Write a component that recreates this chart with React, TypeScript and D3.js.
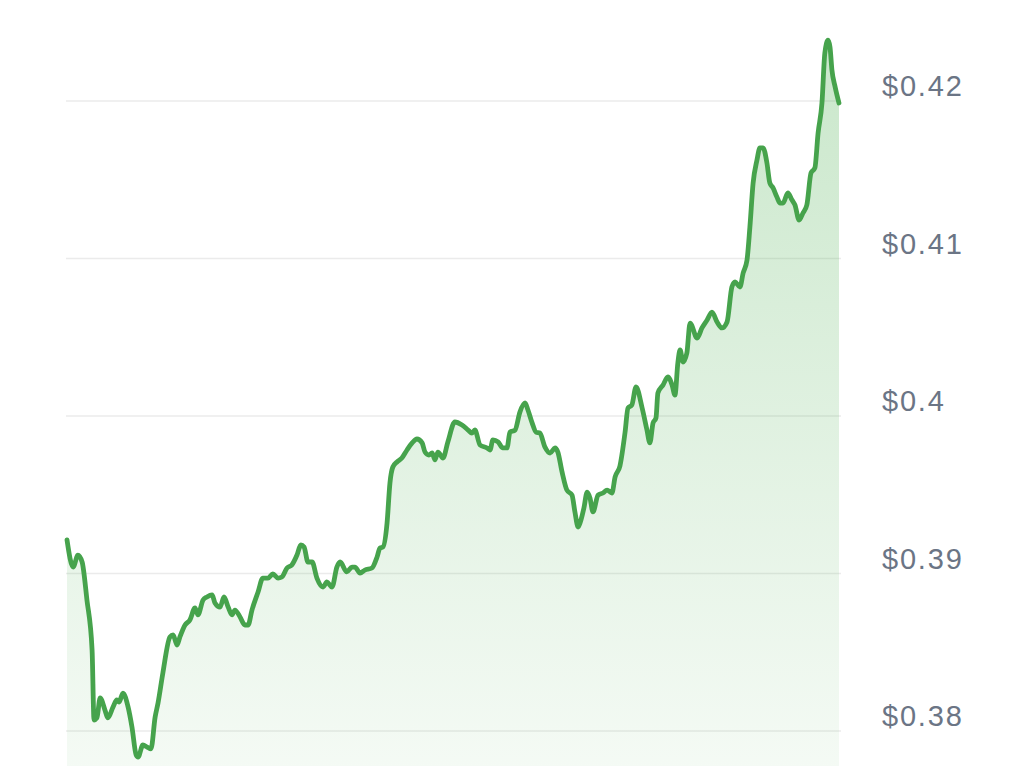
import React, { useEffect, useRef } from "react";
import * as d3 from "d3";

// Time of day in hours (0 = start of window, 24 = end)
const hours = [
  0.0, 0.19, 0.34, 0.47, 0.62, 0.78, 0.84, 0.93, 1.03, 1.18, 1.27, 1.43, 1.55, 1.62, 1.74, 1.9, 2.02, 2.15, 2.21, 2.36,
  2.49, 2.61, 2.74, 2.83, 2.98, 3.2, 3.3, 3.42, 3.51, 3.67, 3.82, 3.98, 4.07, 4.23, 4.35, 4.51, 4.6, 4.76, 4.88, 5.01,
  5.13, 5.22, 5.38, 5.53, 5.63, 5.75, 5.94, 6.09, 6.25, 6.4, 6.56, 6.68, 6.84, 6.99, 7.15, 7.27, 7.37, 7.49, 7.62, 7.77,
  7.96, 8.08, 8.24, 8.39, 8.49, 8.7, 8.86, 8.95, 9.11, 9.26, 9.48, 9.64, 9.73, 9.82, 9.95, 10.04, 10.13, 10.26, 10.41, 10.57,
  10.73, 10.88, 11.04, 11.13, 11.25, 11.35, 11.44, 11.53, 11.69, 11.84, 12.06, 12.28, 12.47, 12.59, 12.68, 12.84, 13.06, 13.15, 13.24, 13.4,
  13.55, 13.68, 13.77, 13.93, 14.08, 14.24, 14.33, 14.46, 14.58, 14.7, 14.86, 15.02, 15.17, 15.26, 15.39, 15.54, 15.7, 15.79, 15.89, 15.95,
  16.07, 16.17, 16.26, 16.35, 16.51, 16.66, 16.79, 16.94, 17.04, 17.19, 17.35, 17.44, 17.56, 17.69, 17.88, 18.03, 18.12, 18.22, 18.31, 18.37,
  18.53, 18.68, 18.81, 18.9, 18.99, 19.06, 19.15, 19.27, 19.37, 19.59, 19.74, 19.9, 20.05, 20.21, 20.36, 20.52, 20.67, 20.77, 20.92, 21.02,
  21.14, 21.23, 21.33, 21.45, 21.54, 21.64, 21.76, 21.85, 21.95, 22.07, 22.17, 22.26, 22.41, 22.54, 22.63, 22.76, 22.88, 23.0, 23.13, 23.25,
  23.35, 23.47, 23.56, 23.66, 23.72, 23.78, 23.88, 24.0,
];

// Price in USD
const prices = [
  0.39213, 0.39041, 0.39117, 0.39073, 0.38832, 0.38514, 0.3807, 0.38083, 0.3821, 0.38133, 0.38083, 0.38152, 0.38197, 0.38184, 0.38241, 0.38152, 0.38025, 0.37848, 0.37835, 0.37911,
  0.37898, 0.37886, 0.38089, 0.38178, 0.38368, 0.38597, 0.3861, 0.38546, 0.38597, 0.38673, 0.38705, 0.38781, 0.38737, 0.38832, 0.38851, 0.38864, 0.38813, 0.38787, 0.38851, 0.38787,
  0.38737, 0.38768, 0.38724, 0.38673, 0.38673, 0.38768, 0.38883, 0.38971, 0.38971, 0.38997, 0.38971, 0.38978, 0.39035, 0.39054, 0.39117, 0.39181, 0.39168, 0.39073, 0.39073, 0.38971,
  0.38914, 0.38946, 0.38914, 0.39041, 0.39073, 0.3901, 0.39041, 0.39041, 0.39003, 0.39022, 0.39035, 0.39105, 0.39162, 0.39168, 0.39321, 0.39575, 0.39676, 0.39708, 0.39733, 0.39784,
  0.39829, 0.39854, 0.39829, 0.39771, 0.39752, 0.39765, 0.39721, 0.39771, 0.39733, 0.39835, 0.39962, 0.39943, 0.39911, 0.39892, 0.39911, 0.39816, 0.39797, 0.39784, 0.39848, 0.39835,
  0.39797, 0.39797, 0.39898, 0.39911, 0.40025, 0.40083, 0.40038, 0.39956, 0.39898, 0.39892, 0.39803, 0.39765, 0.39797, 0.39771, 0.39645, 0.3953, 0.39498, 0.39391, 0.39295, 0.39321,
  0.39416, 0.39517, 0.39479, 0.39391, 0.39498, 0.39511, 0.3953, 0.39511, 0.39613, 0.39683, 0.39898, 0.40051, 0.4007, 0.40184, 0.40051, 0.39911, 0.39829, 0.39956, 0.39987, 0.40146,
  0.40197, 0.40248, 0.40197, 0.40133, 0.40337, 0.40419, 0.40343, 0.404, 0.4059, 0.40495, 0.40559, 0.4061, 0.4066, 0.40597, 0.40559, 0.40597, 0.40819, 0.40851, 0.40819, 0.40908,
  0.4099, 0.412, 0.41479, 0.41625, 0.41702, 0.41702, 0.41606, 0.41479, 0.41448, 0.4139, 0.41352, 0.41352, 0.41416, 0.41371, 0.4134, 0.41244, 0.41289, 0.4134, 0.41543, 0.41575,
  0.41797, 0.41987, 0.42305, 0.42387, 0.42343, 0.42197, 0.42089, 0.41987,
];

const tickValues = [0.42, 0.41, 0.4, 0.39, 0.38];
const tickLabels = ["$0.42", "$0.41", "$0.4", "$0.39", "$0.38"];

const W = 1032;
const H = 766;

export default function App() {
  const ref = useRef<SVGSVGElement>(null);

  useEffect(() => {
    const svg = d3.select(ref.current);
    svg.selectAll("*").remove();

    const data = hours.map((h, i) => ({ h, p: prices[i] }));

    const x = d3.scaleLinear().domain([0, 24]).range([67, 839]);
    const y = d3.scaleLinear().domain([0.38, 0.42]).range([731, 101]);

    const defs = svg.append("defs");
    const grad = defs
      .append("linearGradient")
      .attr("id", "fillGrad")
      .attr("gradientUnits", "userSpaceOnUse")
      .attr("x1", 0)
      .attr("x2", 0)
      .attr("y1", y(0.424))
      .attr("y2", H);
    grad.append("stop").attr("offset", "0%").attr("stop-color", "#4caf50").attr("stop-opacity", 0.3);
    grad.append("stop").attr("offset", "100%").attr("stop-color", "#4caf50").attr("stop-opacity", 0.06);

    // gridlines
    svg
      .append("g")
      .selectAll("line")
      .data(tickValues)
      .join("line")
      .attr("x1", 66)
      .attr("x2", 841)
      .attr("y1", (d) => y(d))
      .attr("y2", (d) => y(d))
      .attr("stroke", "#ebebeb")
      .attr("stroke-width", 1.5);

    const curve = d3.curveMonotoneX;

    const area = d3
      .area<{ h: number; p: number }>()
      .x((d) => x(d.h))
      .y0(H)
      .y1((d) => y(d.p))
      .curve(curve);

    svg.append("path").datum(data).attr("d", area).attr("fill", "url(#fillGrad)");

    const line = d3
      .line<{ h: number; p: number }>()
      .x((d) => x(d.h))
      .y((d) => y(d.p))
      .curve(curve);

    svg
      .append("path")
      .datum(data)
      .attr("d", line)
      .attr("fill", "none")
      .attr("stroke", "#46a34c")
      .attr("stroke-width", 4.8)
      .attr("stroke-linejoin", "round")
      .attr("stroke-linecap", "round");

    // labels
    svg
      .append("g")
      .selectAll("text")
      .data(tickValues)
      .join("text")
      .attr("x", 882)
      .attr("y", (d) => y(d) - 5)
      .attr("font-family", "'Liberation Sans', Arial, sans-serif")
      .attr("font-size", 29)
      .attr("letter-spacing", 1.8)
      .attr("fill", "#6b7585")
      .text((d, i) => tickLabels[i]);
  }, []);

  return (
    <svg
      ref={ref}
      width={W}
      height={H}
      style={{ position: "absolute", left: 0, top: 0, background: "#fff" }}
    />
  );
}
